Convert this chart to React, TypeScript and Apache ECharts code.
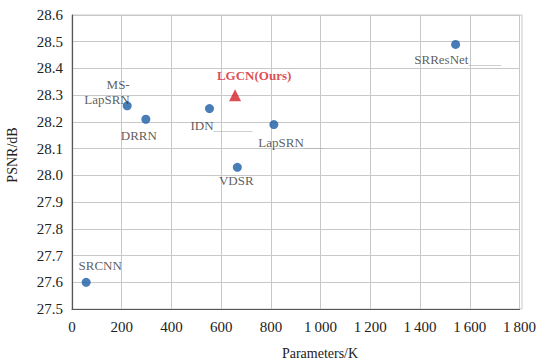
import React, { useEffect, useRef } from "react";
import * as echarts from "echarts";

const methodNames = ["SRCNN", "MS-LapSRN", "DRRN", "IDN", "VDSR", "LapSRN", "SRResNet"];
const methodParams = [57, 222, 297, 553, 665, 812, 1543];
const methodPsnr = [27.6, 28.26, 28.21, 28.25, 28.03, 28.19, 28.49];
const oursName = "LGCN(Ours)";
const oursParams = [656];
const oursPsnr = [28.3];
const yTicksMin = 27.5;
const yTicksMax = 28.6;
const xTicksMax = 1800;

const serif = "serif";

const labelCfg: Record<string, any> = {
  SRCNN: { position: "top", distance: 5, offset: [14, 0] },
  "MS-LapSRN": { position: "left", distance: 0, offset: [7, -14] },
  DRRN: { position: "bottom", distance: 4, offset: [-7, 0] },
  IDN: { position: "bottom", distance: 5, offset: [12, 0] },
  VDSR: { position: "bottom", distance: 1, offset: [-1, 0] },
  LapSRN: { position: "bottom", distance: 6, offset: [17, 0] },
  SRResNet: { position: "bottom", distance: 3, offset: [2, 0] },
};
const labelText: Record<string, string> = {
  SRCNN: "SRCNN",
  "MS-LapSRN": "{t|MS-}\n{t|LapSRN}",
  DRRN: "DRRN",
  IDN: "{t|IDN}{u|______}",
  VDSR: "VDSR",
  LapSRN: "{t|LapSRN}{u|___}",
  SRResNet: "{t|SRResNet}{u|_____}",
};

export default function App() {
  const ref = useRef<HTMLDivElement>(null);
  useEffect(() => {
    document.body.style.margin = "0";
    const chart = echarts.init(ref.current!, null, { renderer: "svg" });
    const data = methodNames.map((n, i) => {
      const c = labelCfg[n];
      return {
        name: n,
        value: [methodParams[i], methodPsnr[i]],
        label: {
          show: true,
          position: c.position,
          distance: c.distance,
          offset: c.offset,
          formatter: labelText[n],
          color: "#333",
          fontFamily: serif,
          fontSize: 13,
          lineHeight: 15,
          rich: {
            t: { color: "#333", fontFamily: serif, fontSize: 13, lineHeight: 15 },
            u: { color: "#aaa", fontFamily: serif, fontSize: 13, lineHeight: 15 },
          },
        },
      };
    });
    chart.setOption({
      animation: false,
      backgroundColor: "#fff",
      textStyle: { fontFamily: serif },
      grid: { left: 72, right: 17, top: 15, bottom: 53 },
      xAxis: {
        type: "value",
        min: 0,
        max: xTicksMax,
        interval: 200,
        axisLine: { show: true, lineStyle: { color: "#555", width: 1.2 } },
        axisTick: { show: false },
        splitLine: { show: true, lineStyle: { color: "#c8c8c8" } },
        axisLabel: {
          color: "#222",
          fontFamily: serif,
          fontSize: 15,
          margin: 10,
          formatter: (v: number) => (v >= 1000 ? `${Math.floor(v / 1000)}\u2009${String(v % 1000).padStart(3, "0")}` : String(v)),
        },
      },
      yAxis: {
        type: "value",
        min: yTicksMin,
        max: yTicksMax,
        interval: 0.1,
        axisLine: { show: true, lineStyle: { color: "#555", width: 1.2 } },
        axisTick: { show: false },
        splitLine: { show: true, lineStyle: { color: "#c8c8c8" } },
        axisLabel: {
          color: "#222",
          fontFamily: serif,
          fontSize: 15,
          margin: 9,
          formatter: (v: number) => v.toFixed(1),
        },
      },
      graphic: [
        {
          type: "rect",
          shape: { x: 72, y: 15, width: 450, height: 294 },
          style: { fill: "none", stroke: "#c8c8c8", lineWidth: 1 },
          silent: true,
          z: 0,
        },
        {
          type: "text",
          x: 12,
          y: 155,
          rotation: Math.PI / 2,
          style: {
            text: "PSNR/dB",
            fontFamily: serif,
            fontSize: 14,
            fill: "#222",
            align: "center",
            verticalAlign: "middle",
          },
        },
        {
          type: "text",
          x: 320,
          y: 353,
          style: {
            text: "Parameters/K",
            fontFamily: serif,
            fontSize: 14,
            fill: "#222",
            align: "center",
            verticalAlign: "middle",
          },
        },
      ],
      series: [
        {
          type: "scatter",
          symbol: "circle",
          symbolSize: 9,
          itemStyle: { color: "#1a5ca6" },
          data,
          z: 3,
        },
        {
          type: "scatter",
          symbol: "triangle",
          symbolSize: 12,
          itemStyle: { color: "#d42027" },
          data: oursParams.map((p, i) => ({ name: oursName, value: [p, oursPsnr[i]] })),
          label: {
            show: true,
            position: "top",
            distance: 7,
            offset: [19, 0],
            formatter: "{b}",
            color: "#d42027",
            fontWeight: "bold",
            fontFamily: serif,
            fontSize: 13,
          },
          z: 4,
        },
      ],
    });
    return () => chart.dispose();
  }, []);
  return <div ref={ref} style={{ width: 539, height: 362 }} />;
}
